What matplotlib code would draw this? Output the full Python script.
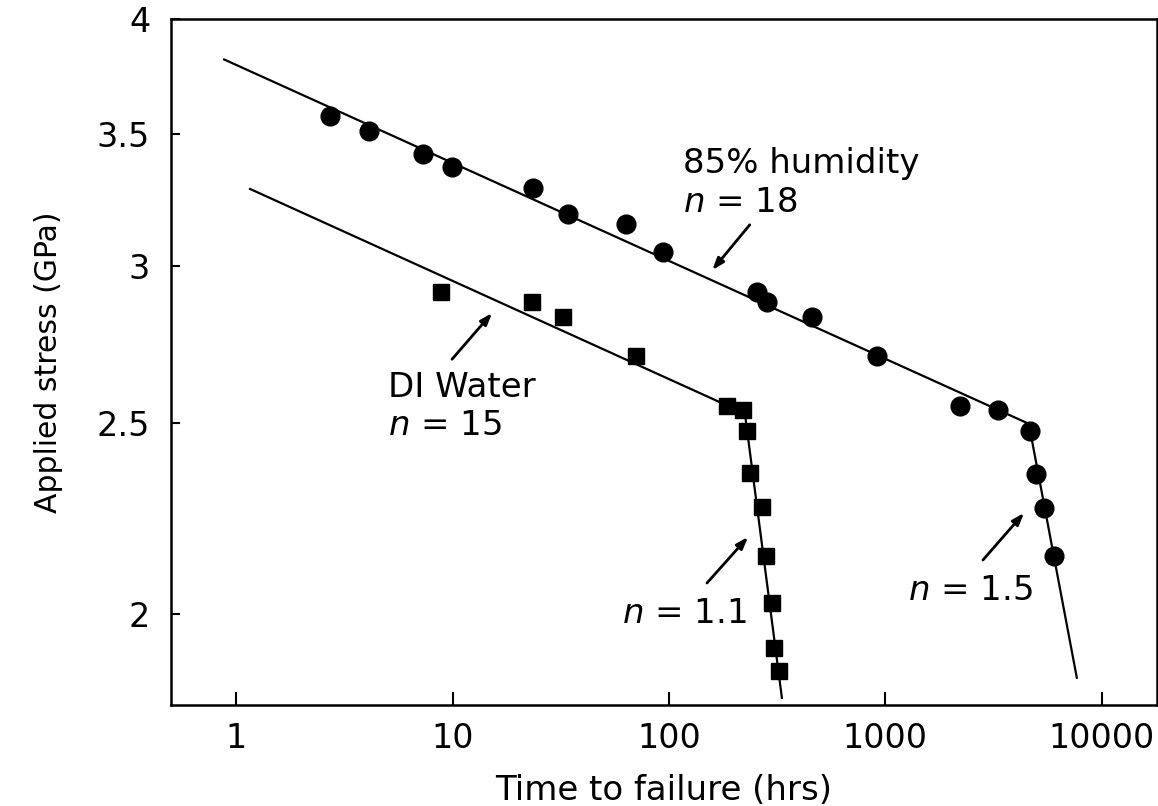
import matplotlib.pyplot as plt
from matplotlib.ticker import FixedLocator, FixedFormatter, NullLocator

plt.rcParams['font.family'] = ['DejaVu Sans']
plt.rcParams['mathtext.fontset'] = 'dejavusans'

# 85% humidity (circles)
hum_t = [2.72, 4.12, 7.31, 9.95, 23.5, 34.2, 63.3, 93.8, 255, 284, 458, 913,
         2209, 3308, 4650, 4958, 5398, 6003]
hum_s = [3.574, 3.513, 3.420, 3.368, 3.287, 3.188, 3.151, 3.050, 2.910, 2.876,
         2.829, 2.703, 2.550, 2.538, 2.477, 2.356, 2.264, 2.141]
# DI water (squares)
di_t = [8.85, 23.3, 32.4, 70.4, 185, 220, 229, 237, 269, 281, 299, 306, 322]
di_s = [2.910, 2.876, 2.829, 2.703, 2.550, 2.538, 2.477, 2.359, 2.266, 2.141,
        2.026, 1.924, 1.873]

# fitted lines (start, knee, end)
hum_fit_t = [0.88, 4603, 7670]
hum_fit_s = [3.816, 2.497, 1.858]
di_fit_t = [1.16, 224.4, 332.6]
di_fit_s = [3.282, 2.527, 1.815]

xticks = [1, 10, 100, 1000, 10000]
xlabels = ['1', '10', '100', '1000', '10000']
yticks = [2, 2.5, 3, 3.5, 4]
ylabels = ['2', '2.5', '3', '3.5', '4']

fig = plt.figure(figsize=(11.58, 8.06), dpi=100)
ax = fig.add_axes([171 / 1158, 1 - 705 / 806, 986 / 1158, 686 / 806])

ax.plot(hum_fit_t, hum_fit_s, color='k', lw=1.6)
ax.plot(di_fit_t, di_fit_s, color='k', lw=1.6)
ax.plot(hum_t, hum_s, 'o', color='k', ms=13.5)
ax.plot(di_t, di_s, 's', color='k', ms=11)

ax.set_xscale('log')
ax.set_yscale('log')
ax.set_xlim(0.5, 18000)
ax.set_ylim(1.8, 4)

ax.xaxis.set_major_locator(FixedLocator(xticks))
ax.xaxis.set_major_formatter(FixedFormatter(xlabels))
ax.xaxis.set_minor_locator(NullLocator())
ax.yaxis.set_major_locator(FixedLocator(yticks))
ax.yaxis.set_major_formatter(FixedFormatter(ylabels))
ax.yaxis.set_minor_locator(NullLocator())

ax.tick_params(axis='x', direction='in', length=9.5, width=1.5, labelsize=24, pad=12)
ax.tick_params(axis='y', direction='in', length=6.5, width=1.5, labelsize=24, pad=15)
for sp in ax.spines.values():
    sp.set_linewidth(1.8)

ax.set_xlabel('Time to failure (hrs)', fontsize=24.5, labelpad=14)
ax.set_ylabel('Applied stress (GPa)', fontsize=21.5, labelpad=24)

txt = dict(transform=ax.transAxes, fontsize=24.5, ha='left', va='baseline')
ax.text(0.519, 0.7755, '85% humidity', **txt)
ax.text(0.519, 0.7187, '$n$ = 18', **txt)
ax.text(0.220, 0.449, 'DI Water', **txt)
ax.text(0.220, 0.3936, '$n$ = 15', **txt)
ax.text(0.457, 0.1195, '$n$ = 1.1', **txt)
ax.text(0.7475, 0.1531, '$n$ = 1.5', **txt)

arrows = [((0.587, 0.700), (0.549, 0.634)),
          ((0.285, 0.504), (0.3256, 0.5714)),
          ((0.5436, 0.1778), (0.5852, 0.2449)),
          ((0.8235, 0.2114), (0.8651, 0.2799))]
for tail, head in arrows:
    ax.annotate('', xy=head, xytext=tail, xycoords='axes fraction',
                arrowprops=dict(arrowstyle='-|>,head_length=0.7,head_width=0.25',
                                lw=2, color='k', shrinkA=0, shrinkB=0))

fig.savefig('out.png', dpi=100)
